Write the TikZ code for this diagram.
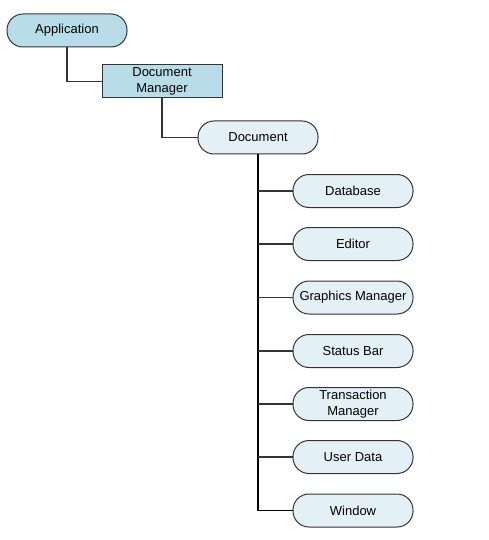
\documentclass[tikz,border=0pt]{standalone}
\usepackage{fontspec}
\setmainfont{Liberation Sans}
\definecolor{darkfill}{HTML}{B9DDE8}
\definecolor{lightfill}{HTML}{E3F1F6}
\definecolor{edge}{HTML}{333333}
\begin{document}
\begin{tikzpicture}[x=1pt,y=-1pt,
  base/.style={draw=edge,line width=1pt,minimum width=120pt,minimum height=33pt,inner sep=1pt,align=center,font=\fontsize{13}{16}\selectfont},
  pill/.style={base,rounded corners=16pt},
  toppill/.style={pill,fill=darkfill},
  leaf/.style={pill,fill=lightfill},
  boxnode/.style={base,fill=darkfill},
  conn/.style={draw=edge,line width=1.3pt},
  trunk/.style={draw=black,line width=1.8pt}]
\useasboundingbox (0,0) rectangle (489,540);
\node[toppill] (app) at (67,30.5) {Application};
\node[boxnode] (dm) at (162,81.5) {Document\\Manager};
\node[leaf] (doc) at (258,137.5) {Document};
\node[leaf] (db) at (353,191) {Database};
\node[leaf] (ed) at (353,244) {Editor};
\node[leaf] (gm) at (353,297.5) {Graphics Manager};
\node[leaf] (sb) at (353,351) {Status Bar};
\node[leaf] (tm) at (353,404) {Transaction\\Manager};
\node[leaf] (ud) at (353,457) {User Data};
\node[leaf] (win) at (353,510.5) {Window};
\draw[conn] (app.south) |- (dm.west);
\draw[conn] (dm.south) |- (doc.west);
\draw[trunk] (doc.south) |- (win.west);
\foreach \n in {db,ed,gm,sb,tm,ud}
  \draw[conn] (doc.south |- \n.west) -- (\n.west);
\end{tikzpicture}
\end{document}
